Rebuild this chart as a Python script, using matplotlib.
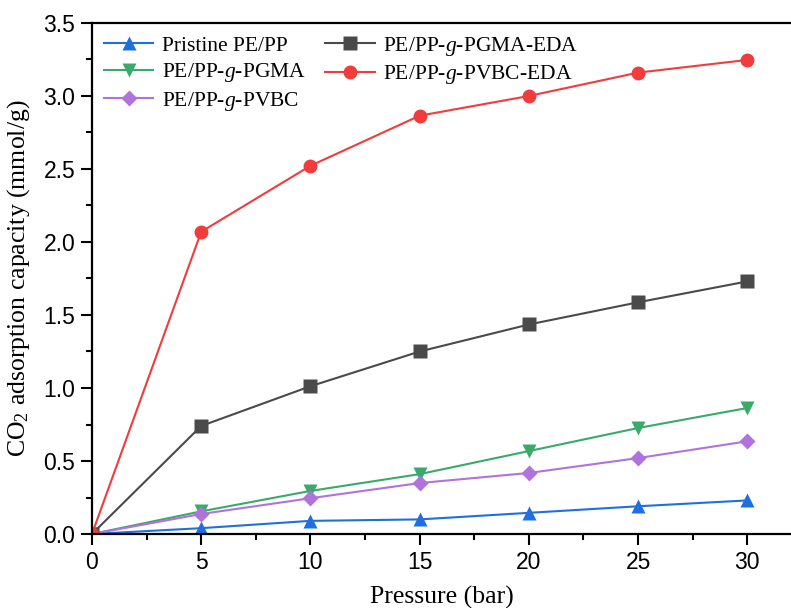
import numpy as np
import matplotlib
matplotlib.use('Agg')
import matplotlib.pyplot as plt
from matplotlib.ticker import MultipleLocator

matplotlib.rcParams['mathtext.fontset'] = 'custom'
matplotlib.rcParams['mathtext.rm'] = 'Liberation Serif'
matplotlib.rcParams['mathtext.it'] = 'Liberation Serif:italic'

pressure = [0, 5, 10, 15, 20, 25, 30]
pristine = [0, 0.04, 0.09, 0.10, 0.145, 0.19, 0.23]
pgma = [0, 0.155, 0.295, 0.41, 0.568, 0.726, 0.863]
pvbc = [0, 0.137, 0.245, 0.349, 0.418, 0.52, 0.635]
pgma_eda = [0, 0.74, 1.012, 1.25, 1.435, 1.587, 1.73]
pvbc_eda = [0, 2.07, 2.522, 2.865, 3.0, 3.16, 3.247]

series = [
    (pristine, "Pristine PE/PP", "#1f6fe0", "^"),
    (pgma, r"PE/PP-$\it{g}$-PGMA", "#3aaa6a", "v"),
    (pvbc, r"PE/PP-$\it{g}$-PVBC", "#b073dc", "D"),
    (pgma_eda, r"PE/PP-$\it{g}$-PGMA-EDA", "#4a4a4a", "s"),
    (pvbc_eda, r"PE/PP-$\it{g}$-PVBC-EDA", "#f03c3c", "o"),
]

fig = plt.figure(figsize=(7.91, 6.08), dpi=100)
ax = fig.add_axes([0.1163, 0.1217, 0.8837, 0.8405])

for vals, name, col, mk in series:
    ms = 8.5 if mk == "D" else 10
    ax.plot(pressure, vals, "-", marker=mk, color=col, linewidth=1.5,
            markersize=ms, markeredgecolor="none", label=name)

ax.set_xlim(0, 32)
ax.set_ylim(0, 3.5)
ax.xaxis.set_major_locator(MultipleLocator(5))
ax.xaxis.set_minor_locator(MultipleLocator(2.5))
ax.yaxis.set_major_locator(MultipleLocator(0.5))
ax.yaxis.set_minor_locator(MultipleLocator(0.25))
ax.set_xticks([0, 5, 10, 15, 20, 25, 30])
ax.yaxis.set_major_formatter(matplotlib.ticker.FormatStrFormatter('%.1f'))

ax.spines['right'].set_visible(False)
for s in ('left', 'bottom', 'top'):
    ax.spines[s].set_linewidth(1.6)
ax.tick_params(which='major', direction='out', length=8, width=1.5,
               labelsize=16.5, top=False, right=False, pad=4)
ax.tick_params(which='minor', direction='out', length=4, width=1.5,
               top=False, right=False)
for lab in ax.get_xticklabels() + ax.get_yticklabels():
    lab.set_family('Liberation Sans')

ax.set_xlabel("Pressure (bar)", fontsize=18.5, family='Liberation Serif', labelpad=9)
ax.set_ylabel(r"CO$_2$ adsorption capacity (mmol/g)", fontsize=18.5,
              family='Liberation Serif', labelpad=8)

ax.legend(loc="upper left", ncol=2, frameon=False,
          prop={'family': 'Liberation Serif', 'size': 15.5},
          handlelength=2.3, handletextpad=0.4, columnspacing=0.9,
          labelspacing=0.25, borderaxespad=0.15)

fig.savefig("out.png", dpi=100)
